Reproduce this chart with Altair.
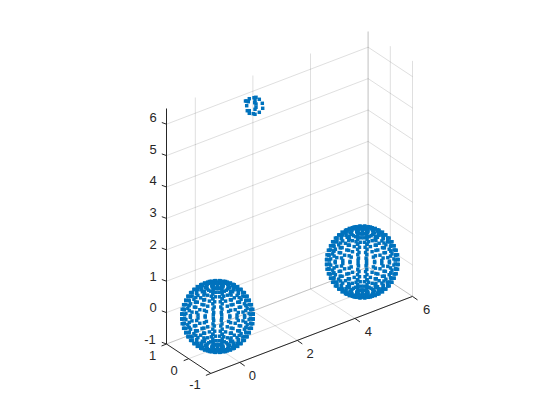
import altair as alt
import pandas as pd

x_ticks = [0, 2, 4, 6]
y_ticks = [-1, 0, 1]
z_ticks = [-1, 0, 1, 2, 3, 4, 5, 6]
x_lim = [-1, 6]
y_lim = [-1, 1]
z_lim = [-1, 6.5]

z_labels = ["-1", "0", "1", "2", "3", "4", "5", "6"]
z_label_x = [150, 153, 153, 153, 153, 153, 153, 153]
z_label_y = [340, 307.5, 276.7, 244.5, 213, 181.3, 150, 117.7]
x_labels = ["0", "2", "4", "6"]
x_label_x = [252.3, 310, 368.3, 426.7]
x_label_y = [376, 354, 332.3, 310]
y_labels = ["-1", "0", "1"]
y_label_x = [195, 174, 152.7]
y_label_y = [385, 371, 356]

# sphere centres
big_cx = [217.5, 362.3]
big_cy = [316.5, 262]

# dot offsets of one ring of the big spheres, a quarter turn; the other quarters mirror it
ring_dx = [
    [4.7, 13.8, 21.9, 28.5, 33.3, 35.7],
    [4.7, 13.6, 21.7, 28.2, 32.9, 35.3],
    [4.5, 13.1, 20.8, 27.1, 31.6, 33.9],
    [4.2, 12.3, 19.5, 25.5, 29.7, 31.8],
    [3.8, 11.1, 17.7, 23.1, 26.9, 28.8],
    [3.3, 9.8, 15.5, 20.2, 23.6, 25.3],
    [2.8, 8.1, 12.9, 16.8, 19.6, 21],
    [2.1, 6.2, 9.9, 12.9, 15.1, 16.2],
    [1.5, 4.3, 6.8, 8.8, 10.3, 11],
    [.7, 2.1, 3.4, 4.4, 5.2, 5.5],
]
ring_dy = [
    [17.8, 16.7, 14.3, 11, 6.9, 2.4],
    [17.6, 16.5, 14.1, 10.8, 6.8, 2.3],
    [17, 15.8, 13.6, 10.4, 6.5, 2.2],
    [15.9, 14.8, 12.7, 9.8, 6.1, 2.1],
    [14.4, 13.4, 11.5, 8.9, 5.6, 1.9],
    [12.6, 11.8, 10.1, 7.8, 4.9, 1.7],
    [10.5, 9.8, 8.4, 6.5, 4.1, 1.4],
    [8.1, 7.5, 6.5, 5, 3.1, 1.1],
    [5.5, 5.1, 4.4, 3.4, 2.1, .7],
    [2.8, 2.6, 2.2, 1.7, 1.1, .4],
]
ring_rise = [0, 4.9, 9.6, 14.2, 18.3, 22.1, 25.2, 27.8, 29.7, 30.8]
pole_rise = 31.2

small_x = [246.7, 249.3, 254, 256, 259.3, 262.3, 262.7, 259.3, 255, 253.3, 249.3,
           247.3, 249.3, 246.7, 245.5, 255, 256, 256, 255, 254.7, 248.3]
small_y = [101, 98.7, 97.7, 97.3, 99.3, 103.3, 108.3, 112.3, 114.3, 113.7, 113.3,
           110.7, 110.7, 105.7, 101, 100.7, 104, 107.3, 109.3, 102.7, 101.7]


def sx(x, y):
    return 217.5 + 28.8 * x - 22.2 * y


def sy(x, y, z):
    return 316.3 - 11 * x - 14.7 * y - 31.4 * z


def seg(rows, a, b, off=(0, 0)):
    i = len(rows)
    rows.append({"id": i, "o": 0, "h": sx(a[0], a[1]), "v": sy(*a)})
    rows.append({"id": i, "o": 1, "h": sx(b[0], b[1]) + off[0], "v": sy(*b) + off[1]})


grid_rows = []
for x in x_ticks:
    seg(grid_rows, (x, y_lim[1], z_lim[0]), (x, y_lim[1], z_lim[1]))
    seg(grid_rows, (x, y_lim[0], z_lim[0]), (x, y_lim[1], z_lim[0]))
for y in y_ticks:
    seg(grid_rows, (x_lim[1], y, z_lim[0]), (x_lim[1], y, z_lim[1]))
    seg(grid_rows, (x_lim[0], y, z_lim[0]), (x_lim[1], y, z_lim[0]))
for z in z_ticks:
    seg(grid_rows, (x_lim[0], y_lim[1], z), (x_lim[1], y_lim[1], z))
    seg(grid_rows, (x_lim[1], y_lim[1], z), (x_lim[1], y_lim[0], z))

axis_rows = []
seg(axis_rows, (x_lim[0], y_lim[0], z_lim[0]), (x_lim[1], y_lim[0], z_lim[0]))
seg(axis_rows, (x_lim[0], y_lim[0], z_lim[0]), (x_lim[0], y_lim[1], z_lim[0]))
seg(axis_rows, (x_lim[0], y_lim[1], z_lim[0]), (x_lim[0], y_lim[1], z_lim[1]))
for x in x_ticks:
    p = (x, y_lim[0], z_lim[0])
    seg(axis_rows, p, p, (5, 3.5))
for y in y_ticks:
    p = (x_lim[0], y, z_lim[0])
    seg(axis_rows, p, p, (-5, 2))
for z in z_ticks:
    p = (x_lim[0], y_lim[1], z)
    seg(axis_rows, p, p, (-4.7, -1.7))

dots = []
for cx, cy in zip(big_cx, big_cy):
    for sh in (1, -1):
        for sv in (1, -1):
            for rdx, rdy, rise in zip(ring_dx, ring_dy, ring_rise):
                for dx, dy in zip(rdx, rdy):
                    dots.append({"h": cx + sh * dx, "v": cy + sv * dy - rise})
                    dots.append({"h": cx + sh * dx, "v": cy + sv * dy + rise})
    dots.append({"h": cx, "v": cy - pole_rise})
    dots.append({"h": cx, "v": cy + pole_rise})
for h, v in zip(small_x, small_y):
    dots.append({"h": h, "v": v})

labels = []
for t, h, v in zip(z_labels + x_labels + y_labels,
                   z_label_x + x_label_x + y_label_x,
                   z_label_y + x_label_y + y_label_y):
    labels.append({"t": t, "h": h, "v": v})

H = alt.X("h:Q", scale=alt.Scale(domain=[8, 552], nice=False, zero=False), axis=None)
V = alt.Y("v:Q", scale=alt.Scale(domain=[412, 8], nice=False, zero=False), axis=None)

grid = alt.Chart(pd.DataFrame(grid_rows)).mark_line(
    color="#262626", strokeWidth=1, opacity=0.15
).encode(x=H, y=V, detail="id:N", order="o:Q")
axes = alt.Chart(pd.DataFrame(axis_rows)).mark_line(
    color="#262626", strokeWidth=1
).encode(x=H, y=V, detail="id:N", order="o:Q")
points = alt.Chart(pd.DataFrame(dots)).mark_square(
    color="#0072BD", size=12, opacity=1
).encode(x=H, y=V)
text = alt.Chart(pd.DataFrame(labels)).mark_text(
    font="Liberation Sans", fontSize=13, color="#262626", align="center", baseline="middle"
).encode(x=H, y=V, text="t:N")

chart = alt.layer(grid, points, axes, text).properties(
    width=544, height=404, padding=0,
    autosize=alt.AutoSizeParams(type="none"),
).configure_view(stroke=None)

chart.save("out.html", embed_options={"renderer": "svg", "actions": False})
